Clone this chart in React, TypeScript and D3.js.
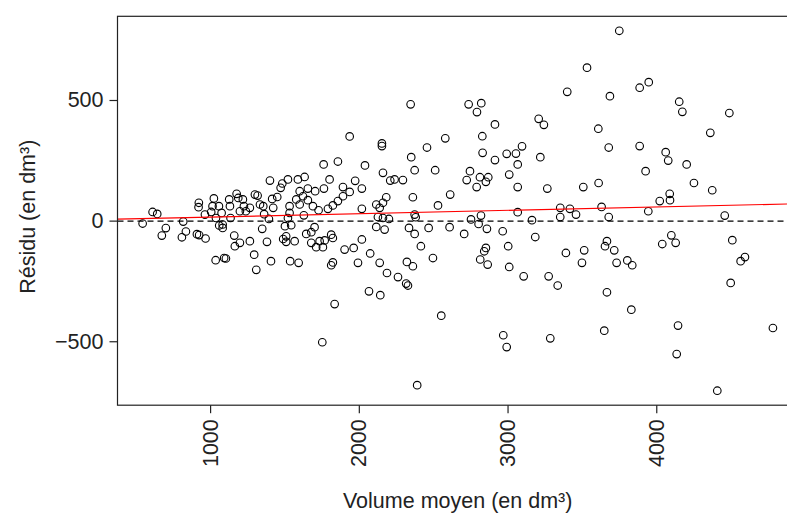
import React from "react";
import * as d3 from "d3";

const volume: number[] = [
  2345, 1935, 2152, 2455, 2578, 3748, 3531, 3398, 3685, 2735, 2820, 2791, 2912, 3206, 3241, 2827, 3607, 3094, 3677, 3885,
  3946, 4151, 4172, 4488, 4360, 3885,
  610, 641, 543, 699, 672, 816, 834, 807, 908, 923, 966, 921, 919, 1022, 962, 1004, 1013, 1056, 1036, 1058,
  1081, 1081, 1074, 1130, 1125, 1134, 1175, 1186, 1217, 1224, 1237, 1197, 1264, 1298, 1316, 1332, 1354, 1360, 1392, 1414,
  1448, 1421, 1399, 1471, 1482, 1159, 1163, 1197, 1264, 1293, 1379, 1347, 1034, 1091, 1103, 1307, 1406, 1488, 1500,
  2152, 1760, 1856, 2038, 2349, 2372, 2510, 2159, 2208, 2237, 2293, 1972, 2017, 1800, 1762, 1703, 1654, 1599, 1520, 1587,
  1632, 1621, 1576, 1654, 1531, 1599, 1688, 1726, 1789, 1822, 1856, 1890, 1890, 1935, 2017, 2114, 2159, 2137, 2181, 2360,
  2529, 2611, 1531, 1520, 1542, 1627, 2125, 2159, 2199, 2372, 2379, 2114, 2170, 2334, 2372, 2466, 2607, 1699, 1677, 1643,
  1508, 1508, 1565, 1677, 1733, 1767, 1811, 1822, 1710, 1755, 1901, 1962, 2017, 2073, 1991, 2137, 1811, 1822, 1535, 1592,
  2186, 2260, 2320, 2360, 2414, 2495,
  2829, 2912, 2991, 3053, 3065, 3217, 2744, 2722, 2811, 2867, 2851, 2789, 3008, 3065, 3264, 3506, 3609, 3065, 3351, 3416,
  3457, 3351, 3629, 3677, 2818, 2751, 2802, 2858, 3161, 2705, 2964, 3183, 2851, 2840, 2813, 2863, 3001, 3008, 3105, 3273,
  3389, 3512, 3497, 3665, 3652, 3714, 3730,
  4060, 4077, 4201, 3925, 4250, 4373, 4087, 4089, 4020, 3943, 4457, 4098, 4037, 4127, 4508, 3802, 3835, 4593, 4564,
  4497, 3829, 4143, 4781, 4134, 4407,
  2315, 2327, 2065, 2141, 1834, 2551, 1751, 2389,
  3334, 3665, 2968, 2991, 3284, 3647,
];

const residu: number[] = [
  484, 351, 322, 305, 343, 789, 636, 536, 518, 484, 489, 452, 401, 424, 399, 352, 383, 310, 305, 553,
  576, 495, 453, 448, 366, 311,
  38, 30, -10, -29, -60, -2, -43, -67, -54, -58, -72, 76, 58, 94, 27, 38, 62, 62, 13, -18,
  -28, -14, 34, 62, 90, 13, 113, 96, 90, 62, 41, 41, 55, 110, 106, 69, 62, 29, 9, 92,
  100, 55, 168, 138, 156, -60, -104, -90, -83, -139, -86, -32, -162, -153, -155, -202, -166, -74, -21,
  311, 235, 247, 231, 265, 211, 211, 200, 168, 173, 170, 167, 135, 173, 135, 124, 135, 124, 173, 173,
  183, 103, 90, 87, 62, 69, 62, 45, 51, 65, 83, 103, 141, 121, 51, 69, 76, 55, 99, 99,
  65, 110, 34, 13, -17, 24, 17, 13, 9, 27, 16, -24, -35, -28, -53, -28, -25, -25, -46, -53,
  -63, -86, -83, -90, -83, -80, -56, -70, -108, -108, -118, -111, -76, -134, -173, -173, -183, -171, -166, -173,
  -215, -232, -169, -187, -104, -153,
  283, 253, 279, 280, 235, 265, 207, 170, 182, 182, 163, 141, 193, 141, 135, 141, 158, 37, 55, 51,
  27, 17, 59, 17, 23, 7, -12, -32, 4, -53, -42, -66, -111, -125, -159, -180, -104, -190, -229, -229,
  -132, -121, -173, -83, -104, -121, -173,
  286, 251, 235, 207, 158, 128, 113, 87, 83, 41, 23, -59, -95, -90, -79, -163, -183, -149, -166,
  -256, -367, -433, -443, -551, -703,
  -259, -267, -291, -307, -344, -392, -502, -680,
  -267, -295, -473, -522, -486, -454,
];

const xTicks: number[] = [1000, 2000, 3000, 4000];
const yTicks: number[] = [-500, 0, 500];
const fitIntercept = 2.8;
const fitSlope = 0.014;
const xTitle = "Volume moyen (en dm³)";
const yTitle = "Résidu (en dm³)";

const FONT = "'Liberation Sans', Arial, sans-serif";

export default function App() {
  const W = 787;
  const H = 513;
  const left = 117.5;
  const right = 797.9;
  const top = 16.3;
  const bottom = 405.2;
  const xDom: [number, number] = [374, 4949];
  const x = d3.scaleLinear().domain(xDom).range([left, right]);
  const y = d3.scaleLinear().domain([-763, 849]).range([bottom, top]);
  const fs = 21.5;
  const tickLen = 8;

  const lineGen = d3
    .line<number>()
    .x((d) => x(d))
    .y((d) => y(fitIntercept + fitSlope * d));

  return (
    <svg
      width={W}
      height={H}
      style={{ position: "absolute", left: 0, top: 0, background: "#fff" }}
      fontFamily={FONT}
    >
      <rect x={0} y={0} width={W} height={H} fill="#fff" />
      <line
        x1={left}
        x2={right}
        y1={y(0)}
        y2={y(0)}
        stroke="#000"
        strokeWidth={1.3}
        strokeDasharray="6,4"
      />
      {volume.map((v, i) => (
        <circle
          key={i}
          cx={x(v)}
          cy={y(residu[i])}
          r={3.8}
          fill="none"
          stroke="#000"
          strokeWidth={1.1}
        />
      ))}
      <path d={lineGen(xDom) || ""} stroke="#ff0000" strokeWidth={1.2} fill="none" />
      <rect
        x={left}
        y={top}
        width={right - left}
        height={bottom - top}
        fill="none"
        stroke="#222"
        strokeWidth={1.2}
      />
      {yTicks.map((t) => (
        <g key={"y" + t}>
          <line x1={left - tickLen} x2={left} y1={y(t)} y2={y(t)} stroke="#222" strokeWidth={1.2} />
          <text
            x={left - 14}
            y={y(t)}
            textAnchor="end"
            dominantBaseline="central"
            fontSize={fs}
            fill="#222"
          >
            {t < 0 ? "\u2212" + Math.abs(t) : String(t)}
          </text>
        </g>
      ))}
      {xTicks.map((t) => (
        <g key={"x" + t}>
          <line x1={x(t)} x2={x(t)} y1={bottom} y2={bottom + tickLen} stroke="#222" strokeWidth={1.2} />
          <text
            transform={`translate(${x(t)},${bottom + 14}) rotate(-90)`}
            textAnchor="end"
            dominantBaseline="central"
            fontSize={fs}
            fill="#222"
          >
            {String(t)}
          </text>
        </g>
      ))}
      <text x={(left + right) / 2} y={508} textAnchor="middle" fontSize={fs} fill="#222">
        {xTitle}
      </text>
      <text
        transform={`translate(28,${(top + bottom) / 2 + 6}) rotate(-90)`}
        textAnchor="middle"
        dominantBaseline="central"
        fontSize={fs}
        fill="#222"
      >
        {yTitle}
      </text>
    </svg>
  );
}
